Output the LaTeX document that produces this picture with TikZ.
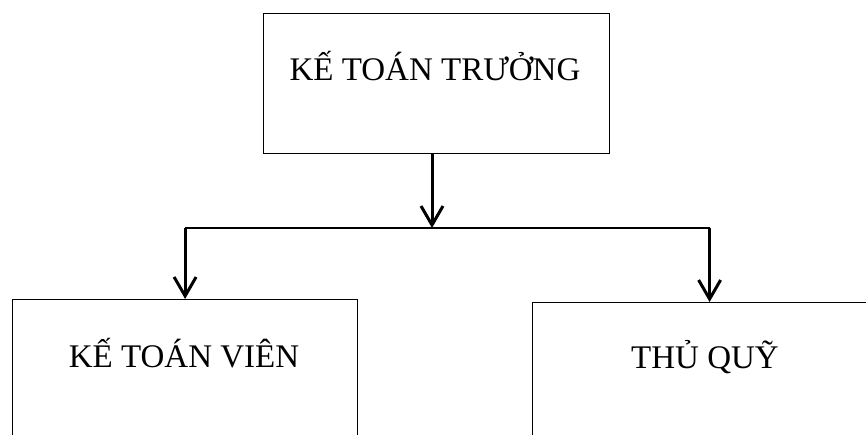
\documentclass[tikz,border=0pt]{standalone}
\usepackage{fontspec}
\setmainfont{Liberation Serif}
\usetikzlibrary{arrows.meta}
\begin{document}
\begin{tikzpicture}[x=1pt,y=1pt,
  boxnode/.style={draw=black,line width=1.2pt,fill=none,inner sep=0pt,anchor=north west},
  lbl/.style={font=\fontsize{33}{40}\selectfont,inner sep=0pt,anchor=base},
  arr/.style={line width=3pt,-{Straight Barb[length=19pt,width=22pt]}},
  bar/.style={line width=1.5pt}]
\useasboundingbox (0,0) rectangle (866,435);
\clip (0,0) rectangle (866,435);
\node[boxnode,minimum width=346pt,minimum height=140pt] (top) at (263,422) {};
\node[boxnode,minimum width=345pt,minimum height=220pt] (left) at (12,136) {};
\node[boxnode,minimum width=354pt,minimum height=220pt] (right) at (532,133) {};
\node[lbl] (ttop) at (435,354) {KẾ TOÁN TRƯỞNG};
\node[lbl] (tleft) at (184,67) {KẾ TOÁN VIÊN};
\node[lbl] (tright) at (705,66) {THỦ QUỸ};
\coordinate (j) at (432,207);
\coordinate (jl) at (left.north |- j);
\coordinate (jr) at (right.north |- j);
\draw[arr] (top.south -| j) -- (j);
\draw[bar] (jl) -- (jr);
\draw[arr] (jl) -- (left.north);
\draw[arr] (jr) -- (right.north);
\end{tikzpicture}
\end{document}
